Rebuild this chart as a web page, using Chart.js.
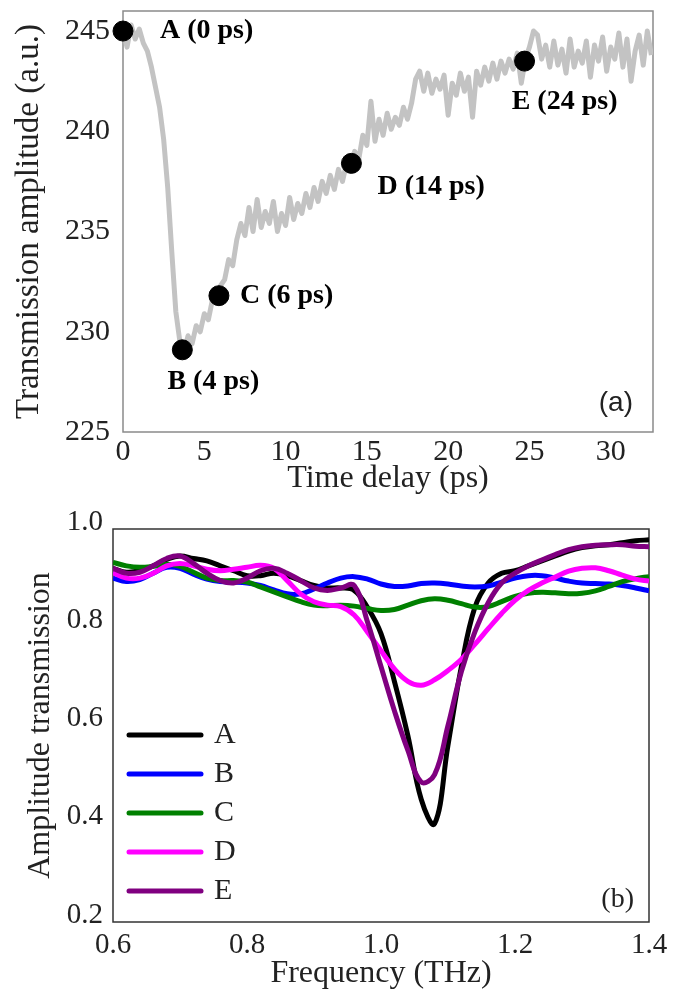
<!DOCTYPE html>
<html>
<head>
<meta charset="utf-8">
<script src="https://cdn.jsdelivr.net/npm/chart.js@4.4.1/dist/chart.umd.min.js"></script>
<style>
html,body{margin:0;padding:0;background:#fff;}
#boxA{position:absolute;left:0;top:0;}
#boxB{position:absolute;left:0;top:500px;}
</style>
</head>
<body>
<canvas id="boxA" width="673" height="500"></canvas>
<canvas id="boxB" width="673" height="499"></canvas>
<script>
const serif='"Liberation Serif","Times New Roman",serif';

// ---- panel (a) : transmission vs time delay
const delay=[0,0.25,0.5,0.75,1,1.25,1.5,1.75,2,2.25,2.5,2.75,3,3.25,3.5,3.75,4,4.25,4.5,4.75,
  5,5.25,5.5,5.75,6,6.25,6.5,6.75,7,7.25,7.5,7.75,8,8.25,8.5,8.75,9,9.25,9.5,9.75,
  10,10.25,10.5,10.75,11,11.25,11.5,11.75,12,12.25,12.5,12.75,13,13.25,13.5,13.75,14,14.25,14.5,14.75,
  15,15.25,15.5,15.75,16,16.25,16.5,16.75,17,17.25,17.5,17.75,18,18.25,18.5,18.75,19,19.25,19.5,19.75,
  20,20.25,20.5,20.75,21,21.25,21.5,21.75,22,22.25,22.5,22.75,23,23.25,23.5,23.75,24,24.25,24.5,24.75,
  25,25.25,25.5,25.75,26,26.25,26.5,26.75,27,27.25,27.5,27.75,28,28.25,28.5,28.75,29,29.25,29.5,29.75,
  30,30.25,30.5,30.75,31,31.25,31.5,31.75,32,32.25,32.5];
const amplitude=[245.0,244.2,245.3,244.6,245.1,244.4,244.0,243.2,242.2,241.2,239.6,237.2,234.0,231.0,229.5,229.0,229.8,229.4,230.3,230.0,
  230.9,230.6,231.6,231.5,232.3,232.6,233.6,233.3,234.6,235.4,234.8,236.2,235.0,236.6,235.2,236.0,235.4,236.5,235.0,235.9,
  235.3,236.7,235.6,236.4,235.9,236.9,236.2,237.2,236.5,237.5,236.9,237.8,237.1,238.1,237.5,238.4,238.0,239.0,238.6,239.8,
  239.3,241.5,239.5,240.6,239.8,240.9,240.1,240.7,240.3,241.2,240.6,241.4,242.6,243.0,242.0,242.9,241.9,242.6,242.1,242.8,
  240.8,242.4,241.8,242.9,242.0,242.7,240.7,243.0,242.3,243.2,242.5,243.4,242.6,243.5,242.9,243.6,243.1,243.9,242.4,243.6,
  244.2,245.0,244.8,243.6,244.3,243.2,244.5,243.3,244.1,242.9,244.6,243.2,244.0,243.4,244.5,242.7,244.3,243.5,244.7,243.0,
  244.2,243.6,244.9,243.2,244.6,242.5,244.0,244.8,243.3,245.0,243.8];
const markTime=[0,3.65,5.9,14.05,24.7];
const markAmp=[245,229.1,231.8,238.4,243.5];
const markText=['A (0 ps)','B (4 ps)','C (6 ps)','D (14 ps)','E (24 ps)'];
const delayTicks=[0,5,10,15,20,25,30];
const ampTicks=[225,230,235,240,245];

// ---- panel (b) : amplitude transmission spectra
const freq=[0.60,0.62,0.64,0.66,0.68,0.70,0.72,0.74,0.76,0.78,0.80,0.82,0.84,0.86,0.88,0.90,0.92,0.94,0.96,0.98,
  1.00,1.02,1.04,1.06,1.08,1.10,1.12,1.14,1.16,1.18,1.20,1.22,1.24,1.26,1.28,1.30,1.32,1.34,1.36,1.38,1.40];
const specA=[0.920,0.912,0.915,0.925,0.938,0.945,0.940,0.935,0.925,0.915,0.905,0.905,0.910,0.905,0.895,0.885,0.880,0.880,0.875,0.840,
  0.787,0.690,0.580,0.450,0.400,0.560,0.720,0.840,0.890,0.910,0.915,0.925,0.935,0.945,0.955,0.962,0.966,0.968,0.972,0.976,0.978];
const specB=[0.900,0.893,0.897,0.910,0.922,0.920,0.908,0.898,0.893,0.892,0.890,0.885,0.876,0.868,0.868,0.878,0.890,0.900,0.903,0.898,
  0.888,0.883,0.884,0.889,0.890,0.888,0.884,0.882,0.884,0.892,0.900,0.905,0.905,0.900,0.894,0.890,0.889,0.888,0.885,0.880,0.874];
const specC=[0.932,0.925,0.922,0.924,0.928,0.924,0.912,0.900,0.895,0.895,0.892,0.882,0.872,0.862,0.852,0.845,0.844,0.845,0.843,0.838,
  0.834,0.836,0.845,0.854,0.858,0.855,0.848,0.841,0.842,0.852,0.863,0.869,0.871,0.870,0.868,0.869,0.874,0.883,0.893,0.899,0.903];
const specD=[0.911,0.900,0.900,0.910,0.925,0.930,0.925,0.918,0.915,0.918,0.922,0.926,0.920,0.895,0.868,0.852,0.845,0.842,0.825,0.790,
  0.752,0.715,0.690,0.682,0.693,0.712,0.735,0.765,0.797,0.828,0.855,0.875,0.890,0.902,0.914,0.920,0.921,0.915,0.906,0.898,0.894];
const specE=[0.920,0.910,0.912,0.925,0.940,0.945,0.930,0.910,0.895,0.890,0.900,0.915,0.920,0.910,0.895,0.880,0.875,0.880,0.885,0.810,
  0.720,0.630,0.550,0.485,0.500,0.600,0.710,0.790,0.850,0.890,0.910,0.925,0.937,0.948,0.958,0.964,0.967,0.968,0.968,0.965,0.964];
const curveNames=['A','B','C','D','E'];
const curveColors=['#000000','#0000ff','#008000','#ff00ff','#800080'];
const freqTicks=[0.6,0.8,1.0,1.2,1.4];
const transTicks=[0.2,0.4,0.6,0.8,1.0];

// label placement next to the black dots (pixels from the dot)
const labelPlace=[{dx:37,dy:0,al:'left'},{dx:31,dy:32,al:'center'},{dx:21,dy:0,al:'left'},{dx:26,dy:23,al:'left'},{dx:40,dy:41,al:'center'}];

function pts(xs,ys){return xs.map((x,i)=>({x:x,y:ys[i]}));}
function setTicks(arr){return function(s){s.ticks=arr.map(v=>({value:v}));};}
function fitTo(prop,size){
  return function(s){
    s[prop]=size;
    s.paddingTop=0;s.paddingBottom=0;s.paddingLeft=0;s.paddingRight=0;
  };
}

const framePlugin={
  id:'frame',
  beforeDatasetsDraw(chart,args,o){
    const a=chart.chartArea,c=chart.ctx;
    c.save();c.strokeStyle=o.color;c.lineWidth=o.width;
    c.strokeRect(a.left,a.top,a.right-a.left,a.bottom-a.top);
    c.restore();
  },
  afterDatasetsDraw(chart,args,o){
    const a=chart.chartArea,c=chart.ctx;
    c.save();
    c.fillStyle='#222';c.font=o.tagFont;c.textAlign='right';c.textBaseline='middle';
    c.fillText(o.tag,a.right-o.tagDx,a.bottom-o.tagDy);
    c.restore();
  }
};

const markLabels={
  id:'markLabels',
  afterDatasetsDraw(chart){
    const meta=chart.getDatasetMeta(1),c=chart.ctx;
    c.save();
    c.fillStyle='#000';c.font='bold 28px '+serif;c.textBaseline='middle';
    meta.data.forEach((p,i)=>{
      const L=labelPlace[i];
      c.textAlign=L.al;
      c.fillText(markText[i],p.x+L.dx,p.y+L.dy);
    });
    c.restore();
  }
};

new Chart(document.getElementById('boxA'),{
  type:'line',
  data:{datasets:[{
    data:pts(delay,amplitude),order:2,
    borderColor:'#c3c3c3',borderWidth:5,pointRadius:0,tension:0,borderJoinStyle:'round'
  },{
    data:pts(markTime,markAmp),order:1,
    showLine:false,pointRadius:10,pointBackgroundColor:'#000',pointBorderColor:'#000',clip:false
  }]},
  options:{
    responsive:false,animation:false,
    layout:{padding:{left:0,right:20,top:7,bottom:0}},
    plugins:{legend:{display:false},tooltip:{enabled:false},
      frame:{color:'#8a8a8a',width:1.5,tag:'(a)',tagFont:'28px "Liberation Sans",Arial,sans-serif',tagDx:20,tagDy:29}},
    scales:{
      x:{type:'linear',min:0,max:32.6,
        afterBuildTicks:setTicks(delayTicks),
        afterFit:fitTo('height',68),
        grid:{display:false,drawTicks:false},border:{display:false},
        ticks:{color:'#222',padding:2,maxRotation:0,font:{family:serif,size:30}},
        title:{display:true,text:'Time delay (ps)',color:'#222',padding:{top:0,bottom:5},font:{family:serif,size:32,lineHeight:1}}
      },
      y:{type:'linear',min:225,max:246,
        afterBuildTicks:setTicks(ampTicks),
        afterFit:fitTo('width',123),
        grid:{display:false,drawTicks:false},border:{display:false},
        ticks:{color:'#222',padding:13,font:{family:serif,size:30}},
        title:{display:true,text:'Transmission amplitude (a.u.)',color:'#222',padding:{top:13,bottom:0},font:{family:serif,size:33,lineHeight:1}}
      }
    }
  },
  plugins:[framePlugin,markLabels]
});

const legendPlugin={
  id:'lineLegend',
  afterDatasetsDraw(chart){
    const a=chart.chartArea,c=chart.ctx;
    c.save();
    c.font='30px '+serif;c.textBaseline='middle';c.textAlign='left';c.lineCap='round';
    chart.data.datasets.forEach((d,i)=>{
      const y=a.top+206+i*39;
      c.strokeStyle=d.borderColor;c.lineWidth=5;
      c.beginPath();c.moveTo(a.left+16,y);c.lineTo(a.left+88,y);c.stroke();
      c.fillStyle='#222';c.fillText(d.label,a.left+101,y);
    });
    c.restore();
  }
};

const specs=[specA,specB,specC,specD,specE];
new Chart(document.getElementById('boxB'),{
  type:'line',
  data:{datasets:specs.map((s,i)=>({
    label:curveNames[i],data:pts(freq,s),
    borderColor:curveColors[i],borderWidth:5,pointRadius:0,tension:0.4,
    order:specs.length-i
  }))},
  options:{
    responsive:false,animation:false,
    layout:{padding:{left:0,right:24,top:29,bottom:0}},
    plugins:{legend:{display:false},tooltip:{enabled:false},
      frame:{color:'#333',width:1.5,tag:'(b)',tagFont:'28px '+serif,tagDx:15,tagDy:22}},
    scales:{
      x:{type:'linear',min:0.6,max:1.4,
        afterBuildTicks:setTicks(freqTicks),
        afterFit:fitTo('height',77),
        grid:{display:false,drawTicks:false},border:{display:false},
        ticks:{color:'#222',padding:6,maxRotation:0,font:{family:serif,size:29},callback:v=>v.toFixed(1)},
        title:{display:true,text:'Frequency (THz)',color:'#222',padding:{top:0,bottom:9},font:{family:serif,size:32,lineHeight:1}}
      },
      y:{type:'linear',min:0.2,max:1.0,
        afterBuildTicks:setTicks(transTicks),
        afterFit:fitTo('width',113),
        grid:{display:false,drawTicks:false},border:{display:false},
        ticks:{color:'#222',padding:10,labelOffset:-7,font:{family:serif,size:29},callback:v=>v.toFixed(1)},
        title:{display:true,text:'Amplitude transmission',color:'#222',padding:{top:25,bottom:0},font:{family:serif,size:32,lineHeight:1}}
      }
    }
  },
  plugins:[framePlugin,legendPlugin]
});
</script>
</body>
</html>
